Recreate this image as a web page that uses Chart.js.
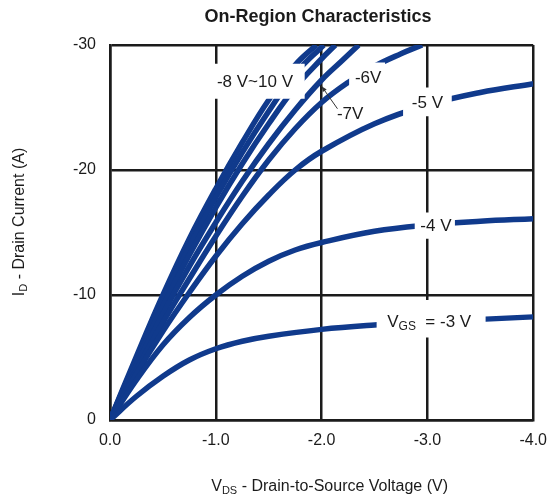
<!DOCTYPE html>
<html>
<head>
<meta charset="utf-8">
<script src="https://cdn.jsdelivr.net/npm/chart.js@4.4.1/dist/chart.umd.min.js"></script>
<style>
  html, body { margin: 0; padding: 0; background: #fff; }
</style>
</head>
<body>
<canvas id="chart" width="558" height="498"></canvas>
<script>
// drain-source voltage (V) and drain current (A), one pair of arrays per gate voltage
const vds3 = [0, -0.25, -0.5, -0.75, -1.0, -1.25, -1.5, -2.0, -2.5, -3.0, -3.5, -4.0];
const id3  = [0, -1.9, -3.5, -4.8, -5.7, -6.3, -6.7, -7.25, -7.6, -7.85, -8.05, -8.25];

const vds4 = [0, -0.25, -0.5, -0.75, -1.0, -1.25, -1.5, -1.75, -2.0, -2.5, -3.0, -3.5, -4.0];
const id4  = [0, -3.2, -6.0, -8.2, -10.0, -11.5, -12.7, -13.6, -14.2, -15.1, -15.6, -15.9, -16.1];

const vds5 = [0, -0.25, -0.5, -0.75, -1.0, -1.25, -1.5, -1.75, -2.0, -2.5, -3.0, -3.5, -4.0];
const id5  = [0, -3.7, -7.1, -10.2, -13.1, -15.7, -18.0, -20.0, -21.5, -23.7, -25.2, -26.2, -26.9];

const vds6 = [0, -0.25, -0.5, -0.75, -1.0, -1.25, -1.5, -1.75, -2.0, -2.25, -2.5, -2.75, -2.95];
const id6  = [0, -4.0, -7.8, -11.3, -14.7, -17.9, -20.8, -23.3, -25.4, -27.0, -28.3, -29.3, -30];

const vds7 = [0, -0.25, -0.5, -0.75, -1.0, -1.25, -1.5, -1.75, -2.0, -2.2, -2.35];
const id7  = [0, -4.4, -8.5, -12.3, -15.8, -19.1, -22.1, -24.8, -27.2, -28.8, -30];

const vds8 = [0, -0.25, -0.5, -0.75, -1.0, -1.25, -1.5, -1.75, -2.0, -2.13];
const id8  = [0, -4.7, -9.1, -13.2, -17.0, -20.5, -23.7, -26.6, -28.9, -30];

const vds9 = [0, -0.25, -0.5, -0.75, -1.0, -1.25, -1.5, -1.75, -2.02];
const id9  = [0, -4.9, -9.6, -13.9, -17.8, -21.4, -24.7, -27.7, -30];

const vds10 = [0, -0.25, -0.5, -0.75, -1.0, -1.25, -1.5, -1.75, -1.95];
const id10  = [0, -5.1, -10.0, -14.5, -18.5, -22.2, -25.6, -28.4, -30];

const gateLabels = ["-3 V", "-4 V", "-5 V", "-6 V", "-7 V", "-8 V", "-9 V", "-10 V"];
const curves = [[vds3, id3], [vds4, id4], [vds5, id5], [vds6, id6], [vds7, id7], [vds8, id8], [vds9, id9], [vds10, id10]];

const xTicks = [0, -1, -2, -3, -4];
const yTicks = [0, -10, -20, -30];

const BLUE = "rgb(16, 58, 140)";
const INK = "#1b1b1b";
const FONT = "'Liberation Sans', Arial, sans-serif";

// curve labels, placed in data units; box = white patch that breaks lines behind the text
const notes = [
  { text: "-8 V~10 V", x: -1.37, y: -27.0, box: [-0.95, -1.84, -25.7, -28.5] },
  { text: "-6V", x: -2.44, y: -27.36, box: [-2.26, -2.6, -26.2, -28.6] },
  { text: "-5 V", x: -3.0, y: -25.36, box: [-2.77, -3.23, -24.3, -26.6] },
  { text: "-4 V", x: -3.08, y: -15.52, box: [-2.88, -3.26, -14.5, -16.6] },
  { text: "-7V", x: -2.27, y: -24.45 }
];
const vgsNote = { x: -2.62, y: -7.84, box: [-2.52, -3.55, -6.6, -9.6] };
const arrow7 = { from: [-2.15, -24.9], to: [-2.0, -26.7] };

function subText(ctx, parts, x, y) {
  // parts: [text, size, dy]
  let cx = x;
  parts.forEach(([t, size, dy]) => {
    ctx.font = size + "px " + FONT;
    ctx.fillText(t, cx, y + dy);
    cx += ctx.measureText(t).width;
  });
  return cx - x;
}

function partsWidth(ctx, parts) {
  let w = 0;
  parts.forEach(([t, size]) => {
    ctx.font = size + "px " + FONT;
    w += ctx.measureText(t).width;
  });
  return w;
}

const annotate = {
  id: "annotate",
  afterDatasetsDraw(chart) {
    const { ctx } = chart;
    const xs = chart.scales.x, ys = chart.scales.y;
    const px = v => xs.getPixelForValue(v);
    const py = v => ys.getPixelForValue(v);

    ctx.save();
    ctx.fillStyle = "#fff";
    [...notes, vgsNote].forEach(n => {
      if (!n.box) return;
      const [a, b, c, d] = n.box;
      const x1 = px(a), x2 = px(b), y1 = py(c), y2 = py(d);
      ctx.fillRect(Math.min(x1, x2), Math.min(y1, y2), Math.abs(x2 - x1), Math.abs(y2 - y1));
    });

    ctx.fillStyle = INK;
    ctx.textBaseline = "middle";
    ctx.textAlign = "center";
    ctx.font = "17px " + FONT;
    notes.forEach(n => ctx.fillText(n.text, px(n.x), py(n.y)));

    ctx.textAlign = "left";
    let cx = px(vgsNote.x), cy = py(vgsNote.y);
    cx += subText(ctx, [["V", 17, 0], ["GS", 12, 5]], cx, cy);
    subText(ctx, [["  = -3 V", 17, 0]], cx, cy);

    // little arrow for -7V
    const ax = px(arrow7.from[0]), ay = py(arrow7.from[1]);
    const bx = px(arrow7.to[0]), by = py(arrow7.to[1]);
    ctx.strokeStyle = "#333";
    ctx.lineWidth = 1;
    ctx.beginPath();
    ctx.moveTo(ax, ay);
    ctx.lineTo(bx, by);
    ctx.stroke();
    const ang = Math.atan2(by - ay, bx - ax);
    ctx.fillStyle = "#333";
    ctx.beginPath();
    ctx.moveTo(bx, by);
    ctx.lineTo(bx - 6 * Math.cos(ang - 0.4), by - 6 * Math.sin(ang - 0.4));
    ctx.lineTo(bx - 6 * Math.cos(ang + 0.4), by - 6 * Math.sin(ang + 0.4));
    ctx.closePath();
    ctx.fill();
    ctx.restore();
  },
  afterDraw(chart) {
    const { ctx, chartArea } = chart;
    ctx.save();
    ctx.fillStyle = INK;
    ctx.textBaseline = "middle";

    ctx.textAlign = "center";
    ctx.font = "bold 18px " + FONT;
    ctx.fillText("On-Region Characteristics", 318, 17);

    ctx.textAlign = "left";
    const xParts = [["V", 16, 0], ["DS", 11, 4], [" - Drain-to-Source Voltage (V)", 16, 0]];
    const xw = partsWidth(ctx, xParts);
    subText(ctx, xParts, (chartArea.left + chartArea.right) / 2 + 8 - xw / 2, 487);

    const yParts = [["I", 16, 0], ["D", 11, 4], [" - Drain Current (A)", 16, 0]];
    const yw = partsWidth(ctx, yParts);
    ctx.translate(20, 222);
    ctx.rotate(-Math.PI / 2);
    subText(ctx, yParts, -yw / 2, 0);
    ctx.restore();
  }
};

const gridStyle = { color: INK, lineWidth: 2.5, drawTicks: false };

new Chart(document.getElementById("chart"), {
  type: "line",
  data: {
    datasets: curves.map(([vx, iy], k) => ({
      label: gateLabels[k],
      data: vx.map((v, i) => ({ x: v, y: iy[i] })),
      borderColor: BLUE,
      borderWidth: 5.5,
      borderCapStyle: "butt",
      pointRadius: 0,
      fill: false,
      tension: 0.4,
      clip: 0
    }))
  },
  options: {
    responsive: false,
    devicePixelRatio: 1,
    animation: false,
    layout: { padding: { top: 45, right: 18, left: 0, bottom: 0 } },
    plugins: { legend: { display: false }, tooltip: { enabled: false } },
    scales: {
      x: {
        type: "linear",
        min: -4,
        max: 0,
        reverse: true,
        afterFit: s => { s.height = 78; },
        afterBuildTicks: s => { s.ticks = xTicks.map(v => ({ value: v })); },
        ticks: {
          callback: v => Number(v).toFixed(1),
          font: { family: FONT, size: 16 },
          color: INK,
          padding: 11,
          maxRotation: 0
        },
        grid: gridStyle,
        border: { color: INK, width: 2.5 }
      },
      y: {
        type: "linear",
        min: -30,
        max: 0,
        reverse: true,
        afterFit: s => { s.width = 110; },
        afterBuildTicks: s => { s.ticks = yTicks.map(v => ({ value: v })); },
        ticks: {
          callback: v => String(v),
          font: { family: FONT, size: 16 },
          color: INK,
          padding: 14
        },
        grid: gridStyle,
        border: { color: INK, width: 2.5 }
      }
    }
  },
  plugins: [annotate]
});
</script>
</body>
</html>
